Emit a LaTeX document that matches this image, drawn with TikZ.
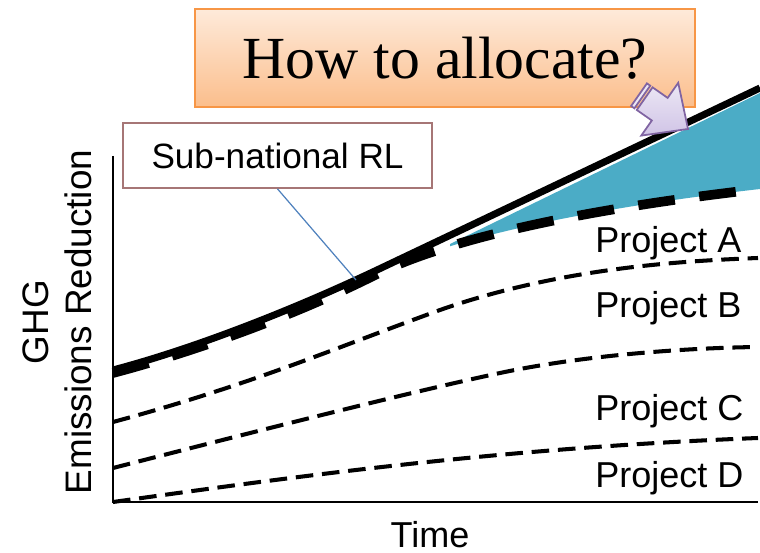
\documentclass[tikz,border=0pt]{standalone}
\usepackage{fontspec}
\setmainfont{Liberation Sans}
\newfontfamily\askfont{Liberation Serif}
\usetikzlibrary{positioning}

\definecolor{tealfill}{RGB}{75,172,198}
\definecolor{askedge}{RGB}{247,150,70}
\definecolor{asktop}{RGB}{254,234,218}
\definecolor{askbottom}{RGB}{251,190,140}
\definecolor{rledge}{RGB}{166,118,118}
\definecolor{linkblue}{RGB}{79,129,189}
\definecolor{arrowedge}{RGB}{128,100,162}
\definecolor{arrowtop}{RGB}{236,231,245}
\definecolor{arrowbottom}{RGB}{208,196,230}

\tikzset{
  axis_line/.style={line width=1.7pt},
  ref_line/.style={line width=4pt},
  total_line/.style={line width=5.5pt, dash pattern=on 21pt off 14pt},
  project_line/.style={line width=2.3pt, dash pattern=on 10pt off 5pt},
  project_label/.style={anchor=base west, inner sep=0pt, font=\fontsize{20.5}{24}\selectfont},
}
\def\PixelScale {0.02cm}

\begin{document}
\begin{tikzpicture}[x={(\PixelScale,0)}, y={(0,-\PixelScale)}]
        \useasboundingbox (0,0) rectangle (760,553);
        % gap between the reference level and the sum of projects
        \begin{scope}
          \clip (377,274) .. controls (430,248) and (540,214) .. (760,189) -- (760,0) -- (377,0) -- cycle;
          \fill[tealfill] (450,244) -- (760,93) -- (760,300) -- (450,300) -- cycle;
        \end{scope}
        % projects
        \draw[project_line] (113,422) .. controls (250,385) and (330,350) .. (440,310)
            .. controls (560,268) and (680,261) .. (758,258);
        \draw[project_line] (113,468) .. controls (300,420) and (420,390) .. (500,373)
            .. controls (580,356) and (680,348) .. (758,347);
        \draw[project_line] (113,502) .. controls (300,476) and (500,448) .. (758,438);
        % sum of projects and reference level
        \draw[total_line] (113,373) .. controls (200,350) and (300,313) .. (377,274)
            .. controls (430,248) and (540,214) .. (760,189);
        \draw[ref_line] (113,370) .. controls (200,347) and (300,306.5) .. (377,270) -- (760,88);
        \coordinate (rl_pt) at (356,280);
        % axes
        \draw[axis_line] (113,156) -- (113,502) -- (758,502);
        \node (y_lab) [rotate=90, align=center, font=\fontsize{21}{24.5}\selectfont] at (57,322) {GHG\\Emissions Reduction};
        \node (x_lab) [font=\fontsize{20.5}{24}\selectfont] at (430,535) {Time};
        \node (lab_a) [project_label] at (595,253) {Project A};
        \node (lab_b) [project_label] at (595,318) {Project B};
        \node (lab_c) [project_label] at (595,420) {Project C};
        \node (lab_d) [project_label] at (595,487) {Project D};
        % callouts
        \node (rl_box) [draw=rledge, line width=1pt, fill=white, minimum width=6.18cm, minimum height=1.3cm,
            font=\fontsize{20}{24}\selectfont] at (277.5,155.5) {Sub-national RL};
        \draw[linkblue, line width=0.7pt] (rl_box.south) -- (rl_pt);
        \node (ask_box) [draw=askedge, line width=1pt, top color=asktop, bottom color=askbottom,
            minimum width=10cm, minimum height=1.96cm, font=\askfont\fontsize{34}{40}\selectfont] at (445,58) {How to allocate?};
        \begin{scope}[shift={(688,129)}, rotate=-35, scale=1.15]
          \draw[arrowedge, line width=1pt, top color=arrowtop, bottom color=arrowbottom]
              (0,0) -- (-30,-28) -- (-30,-12) -- (-46,-12) -- (-46,12) -- (-30,12) -- (-30,28) -- cycle;
          \draw[arrowedge, line width=1pt, fill=arrowtop] (-48.5,-12) rectangle (-52,12);
        \end{scope}
      \end{tikzpicture}
\end{document}
